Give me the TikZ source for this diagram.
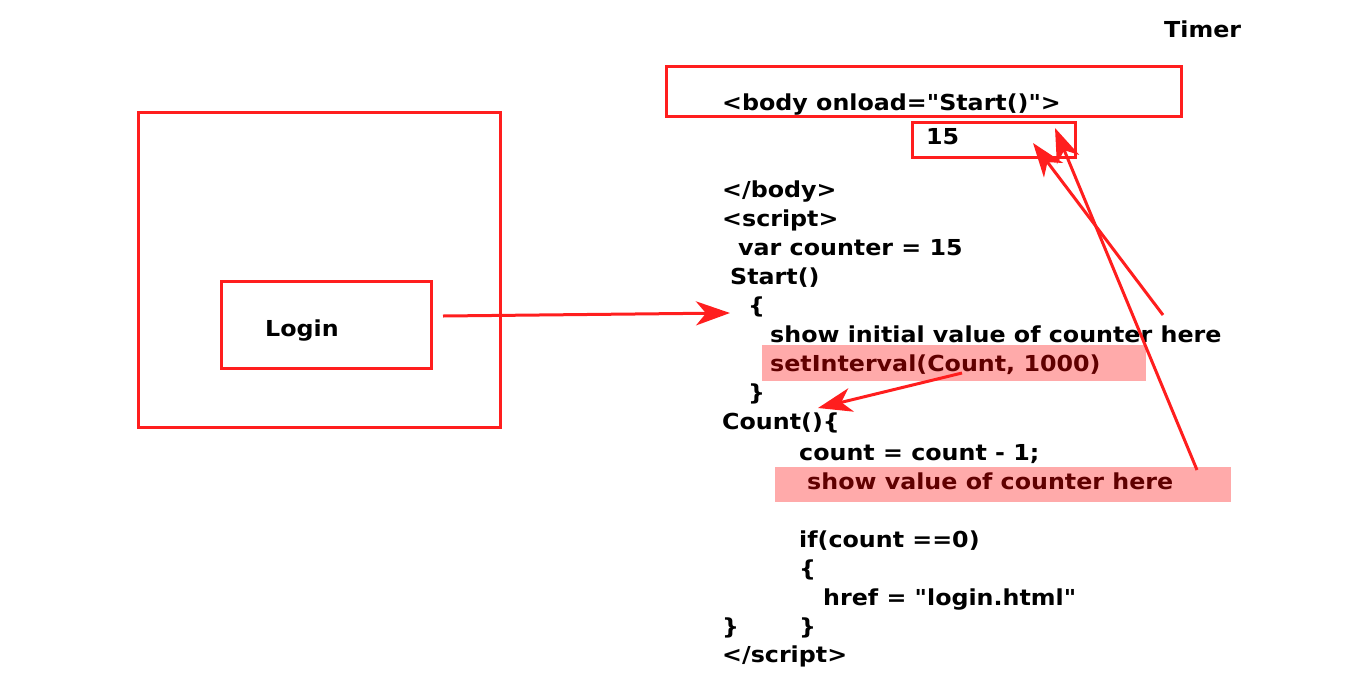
\documentclass[tikz,border=0pt]{standalone}
\usepackage{fontspec}
\setmainfont{DejaVu Sans}[FakeStretch=1.08,Ligatures=TeXOff]
\usetikzlibrary{arrows.meta,positioning}
\definecolor{boxred}{RGB}{255,30,30}
\definecolor{hilite}{RGB}{255,170,170}
\definecolor{hitext}{RGB}{96,0,0}

\begin{document}
\begin{tikzpicture}[x=1pt,y=-1pt,
		box/.style={draw=boxred,line width=3pt,inner sep=0pt},
		code/.style={anchor=base west,inner sep=0pt,font=\fontsize{22}{22}\selectfont\bfseries},
		mark box/.style={fill=hilite,inner sep=0pt},
		ptr/.style={draw=boxred,line width=3pt,-{Stealth[length=34pt,width=24pt,inset=10pt]}}]
		\useasboundingbox (0,0) rectangle (1366,697);
		% page with login button
		\node[box,minimum width=362pt,minimum height=315pt] (page) at (319,269.5) {};
		\node[box,minimum width=210pt,minimum height=87pt] (loginbox) at (326,324.5) {};
		\node[code] (login) at (265,336) {Login};
		% highlighted lines
		\node[mark box,minimum width=384pt,minimum height=36pt] (hlset) at (954,363) {};
		\node[mark box,minimum width=456pt,minimum height=35pt] (hlshow) at (1003,484.5) {};
		% code
		\node[code] (timer) at (1164,37) {Timer};
		\node[box,minimum width=515pt,minimum height=50pt] (bodybox) at (923.5,91) {};
		\node[box,minimum width=163pt,minimum height=35pt] (valbox) at (993.5,139.5) {};
		\node[code] (body) at (722,110) {<body onload="Start()">};
		\node[code] (val) at (926,144) {15};
		\node[code] (endbody) at (722,197) {</body>};
		\node[code] (script) at (722,226) {<script>};
		\node[code] (var) at (738,255) {var counter = 15};
		\node[code] (start) at (730,284) {Start()};
		\node[code] (open1) at (748,313) {\{};
		\node[code] (showinit) at (770,342) {show initial value of counter here};
		\node[code,text=hitext] (setint) at (770,371) {setInterval(Count, 1000)};
		\node[code] (close1) at (748,400) {\}};
		\node[code] (count) at (722,429) {Count()\{};
		\node[code] (dec) at (799,460) {count = count - 1;};
		\node[code,text=hitext] (showval) at (807,489) {show value of counter here};
		\node[code] (if) at (799,547) {if(count ==0)};
		\node[code] (open2) at (799,576) {\{};
		\node[code] (href) at (823,605) {href = "login.html"};
		\node[code] (close2) at (722,634) {\}};
		\node[code] (close3) at (799,634) {\}};
		\node[code] (endscript) at (722,662) {</script>};
		% arrow ends
		\coordinate (a1) at (443,316);
		\coordinate (a2) at (730,313);
		\coordinate (b1) at (962,373);
		\coordinate (b2) at (818,408);
		\coordinate (c1) at (1163,315);
		\coordinate (c2) at (1033,143);
		\coordinate (d1) at (1197,470);
		\coordinate (d2) at (1055,128);
		\draw[ptr] (a1) -- (a2);
		\draw[ptr] (b1) -- (b2);
		\draw[ptr] (c1) -- (c2);
		\draw[ptr] (d1) -- (d2);
	\end{tikzpicture}
\end{document}
